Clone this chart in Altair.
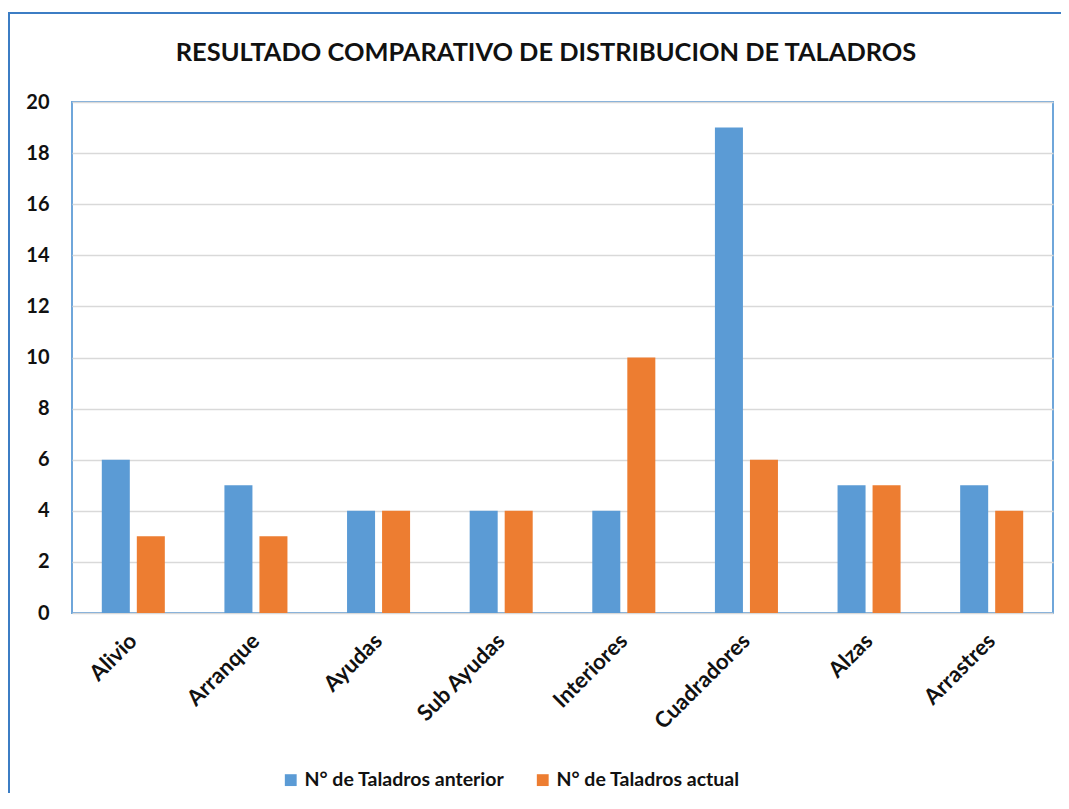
import altair as alt
import pandas as pd

categories = ["Alivio", "Arranque", "Ayudas", "Sub Ayudas", "Interiores", "Cuadradores", "Alzas", "Arrastres"]
anterior = [6, 5, 4, 4, 4, 19, 5, 5]
actual = [3, 3, 4, 4, 10, 6, 5, 4]
series = ["N° de Taladros anterior", "N° de Taladros actual"]
colors = ["#5B9BD5", "#ED7D31"]
y_ticks = [0, 2, 4, 6, 8, 10, 12, 14, 16, 18, 20]
title_text = "RESULTADO COMPARATIVO DE DISTRIBUCION DE TALADROS"

rows = []
for c, a, b in zip(categories, anterior, actual):
    rows.append({"cat": c, "serie": series[0], "val": a})
    rows.append({"cat": c, "serie": series[1], "val": b})
df = pd.DataFrame(rows)

FONT = "Lato"

frame = alt.Chart(pd.DataFrame({"k": [0]})).mark_rect(
    fillOpacity=0, stroke="#3C7DC4", strokeWidth=2
).encode(
    x=alt.value(-63), x2=alt.value(1100), y=alt.value(-89), y2=alt.value(900)
)

title = alt.Chart(pd.DataFrame({"t": [title_text]})).mark_text(
    font=FONT, fontSize=25.4, fontWeight="bold", color="#111111", align="center", baseline="alphabetic"
).encode(text="t:N", x=alt.value(474), y=alt.value(-41))

bars = alt.Chart(df).mark_bar().encode(
    x=alt.X("cat:N", sort=categories,
            scale=alt.Scale(paddingInner=0.486, paddingOuter=0.243),
            axis=alt.Axis(title=None, labelAngle=-45, labelAlign="right", labelBaseline="middle",
                          labelPadding=24, labelFontSize=22, labelFont=FONT, labelFontWeight="bold",
                          labelColor="#111111", ticks=False, domain=False, grid=False)),
    xOffset=alt.XOffset("serie:N", sort=series, scale=alt.Scale(paddingInner=0.2, paddingOuter=0)),
    y=alt.Y("val:Q", scale=alt.Scale(domain=[0, 20]),
            axis=alt.Axis(title=None, values=y_ticks, labelPadding=23, labelFontSize=20, labelFont=FONT,
                          labelFontWeight="bold", labelColor="#111111", ticks=False, domain=False,
                          gridColor="#D9D9D9", gridWidth=1.5)),
    color=alt.Color("serie:N", sort=series, scale=alt.Scale(domain=series, range=colors),
                    legend=alt.Legend(title=None, orient="none", legendX=209, legendY=668,
                                      direction="horizontal", symbolType="square", symbolSize=140,
                                      symbolStrokeWidth=0, symbolOpacity=1, labelFontSize=19.5, labelFont=FONT,
                                      labelFontWeight="bold", labelColor="#111111", columnPadding=28,
                                      labelLimit=400))
)

chart = alt.layer(frame, title, bars).properties(
    width=981, height=511,
    autosize=alt.AutoSizeParams(type="none"),
    padding={"left": 64, "top": 94, "right": 8, "bottom": 180},
).configure_view(stroke="#6FA6DA", strokeWidth=2)

chart.save("out.html", embed_options={"renderer": "svg", "actions": False})
